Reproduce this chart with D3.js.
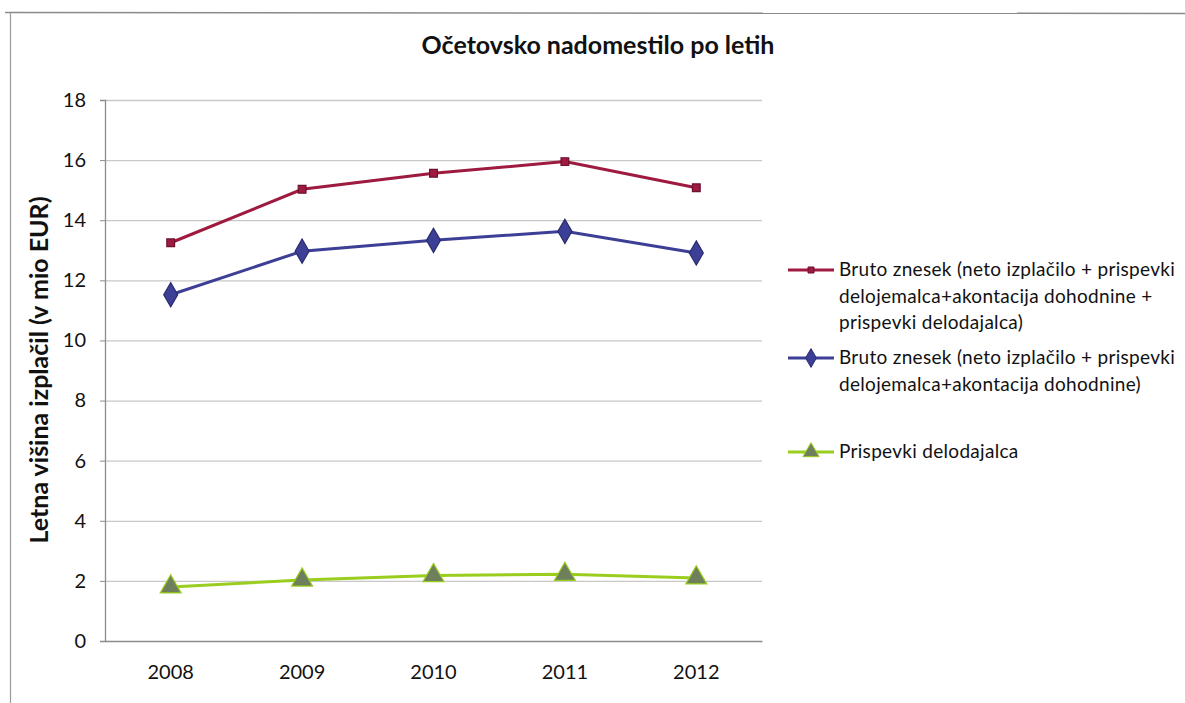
<!DOCTYPE html>
<html><head><meta charset="utf-8">
<script src="https://cdn.jsdelivr.net/npm/d3@7"></script>
<style>
body{margin:0;background:#fff;overflow:hidden}
svg{display:block}
</style></head>
<body>
<svg id="c" width="1185" height="703"></svg>
<script>
const years = ["2008","2009","2010","2011","2012"];
const bruto1 = [13.25, 15.03, 15.56, 15.95, 15.08];
const bruto2 = [11.52, 12.97, 13.33, 13.63, 12.91];
const prispevki = [1.8, 2.03, 2.18, 2.22, 2.1];
const yTicks = [0,2,4,6,8,10,12,14,16,18];
const title = "Očetovsko nadomestilo po letih";
const yTitle = "Letna višina izplačil (v mio EUR)";
const legendLabels = [
  ["Bruto znesek (neto izplačilo + prispevki","delojemalca+akontacija dohodnine +","prispevki delodajalca)"],
  ["Bruto znesek (neto izplačilo + prispevki","delojemalca+akontacija dohodnine)"],
  ["Prispevki delodajalca"]
];

const font = "Lato, 'Open Sans', sans-serif";
const svg = d3.select("#c");
// frame
svg.append("line").attr("x1",5).attr("x2",1185).attr("y1",12.5).attr("y2",13.5).attr("stroke","#8a8a8a").attr("stroke-width",1.5);
svg.append("line").attr("x1",10.5).attr("x2",10.5).attr("y1",13).attr("y2",703).attr("stroke","#9a9a9a").attr("stroke-width",1.2);

const L=105, R=762, T=100, B=641;
const x = d3.scaleBand().domain(years).range([L,R]);
const y = d3.scaleLinear().domain([0,18]).range([B,T]);

// grid
svg.append("g").selectAll("line").data(yTicks.filter(d=>d>0)).join("line")
  .attr("x1",L).attr("x2",R).attr("y1",d=>y(d)+0.5).attr("y2",d=>y(d)+0.5)
  .attr("stroke","#c8c8c8").attr("stroke-width",1.3);

// y axis
const ya = svg.append("g").attr("transform",`translate(${L},0)`)
  .call(d3.axisLeft(y).tickValues(yTicks).tickSize(5).tickPadding(14));
ya.select(".domain").attr("stroke","#8c8c8c").attr("stroke-width",1.3);
ya.selectAll(".tick line").attr("stroke","#8c8c8c");
ya.selectAll("text").attr("font-family",font).attr("font-size",20).attr("fill","#111");

// x axis
const xa = svg.append("g").attr("transform",`translate(0,${B})`)
  .call(d3.axisBottom(x).tickSize(0).tickPadding(24));
xa.select(".domain").attr("stroke","#8c8c8c").attr("stroke-width",1.3);
xa.selectAll("text").attr("font-family",font).attr("font-size",20).attr("fill","#111");

// titles
svg.append("text").attr("x",598).attr("y",54).attr("text-anchor","middle")
  .attr("font-family",font).attr("font-weight","bold").attr("font-size",25).attr("fill","#111").text(title);
svg.append("text").attr("transform",`translate(48,370) rotate(-90)`).attr("text-anchor","middle")
  .attr("font-family",font).attr("font-weight","bold").attr("font-size",25).attr("fill","#111").text(yTitle);

const cx = d => x(d)+x.bandwidth()/2;
const series = [
  {vals:bruto1, color:"#9e1a3e", shape:d3.symbolSquare, size:60, fill:"#9e1a3e", stroke:"#6e1030"},
  {vals:bruto2, color:"#3c3f95", shape:d3.symbolDiamond, size:170, fill:"#3c3f95", stroke:"#2a2c70"},
  {vals:prispevki, color:"#9acd1e", shape:d3.symbolTriangle, size:190, fill:"#6f7f5c", stroke:"#9acd1e"}
];
const line = d3.line().x((d,i)=>cx(years[i])).y(d=>y(d));
series.forEach(s=>{
  svg.append("path").datum(s.vals).attr("d",line).attr("fill","none")
    .attr("stroke",s.color).attr("stroke-width",3);
  svg.append("g").selectAll("path").data(s.vals).join("path")
    .attr("d",d3.symbol().type(s.shape).size(s.size))
    .attr("transform",(d,i)=>`translate(${cx(years[i])},${y(d)})`)
    .attr("fill",s.fill).attr("stroke",s.stroke).attr("stroke-width",1.2);
});

// legend
const legY = [270, 358, 452];
const lg = svg.append("g");
series.forEach((s,i)=>{
  const yy = legY[i];
  lg.append("line").attr("x1",788).attr("x2",834).attr("y1",yy).attr("y2",yy).attr("stroke",s.color).attr("stroke-width",3);
  lg.append("path").attr("d",d3.symbol().type(s.shape).size(s.size*0.6)).attr("transform",`translate(811,${yy})`)
    .attr("fill",s.fill).attr("stroke",s.stroke).attr("stroke-width",1);
  const t = lg.append("text").attr("x",839).attr("y",yy+6).attr("font-family",font).attr("font-size",19)
    .attr("letter-spacing","0.3px").attr("fill","#111");
  legendLabels[i].forEach((ln,j)=>{
    t.append("tspan").attr("x",839).attr("dy",j===0?0:26.5).text(ln);
  });
});
</script>
</body></html>
